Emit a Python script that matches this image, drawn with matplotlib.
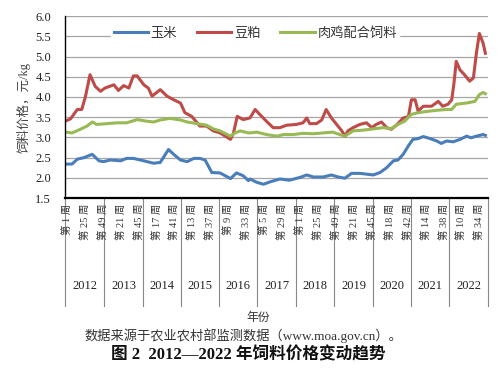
import matplotlib
matplotlib.use("Agg")
import matplotlib.pyplot as plt
import matplotlib.transforms as mtransforms

plt.rcParams['font.family'] = ['Liberation Serif', 'Noto Sans CJK SC']

# week index (0 = 2012 week 1) and price, yuan/kg
corn_weeks = [0, 9, 16, 25, 36, 45, 51, 60, 74, 82, 91, 105, 118, 127, 138, 145, 154, 163,
              172, 180, 187, 196, 207, 221, 229, 238, 245, 247, 256, 265, 274, 287, 300,
              314, 323, 332, 345, 356, 365, 374, 383, 394, 403, 412, 421, 430, 439, 445,
              452, 459, 465, 472, 479, 488, 497, 503, 510, 519, 528, 537, 543, 550, 559, 562]
corn_price = [2.34, 2.34, 2.46, 2.50, 2.58, 2.42, 2.40, 2.44, 2.42, 2.48, 2.48, 2.42, 2.36,
              2.38, 2.70, 2.58, 2.44, 2.40, 2.48, 2.48, 2.44, 2.13, 2.12, 1.98, 2.12, 2.05,
              1.93, 1.97, 1.89, 1.84, 1.90, 1.97, 1.94, 2.01, 2.07, 2.02, 2.02, 2.07, 2.02,
              1.99, 2.11, 2.11, 2.09, 2.07, 2.13, 2.25, 2.42, 2.44, 2.58, 2.79, 2.95, 2.97,
              3.02, 2.97, 2.91, 2.85, 2.91, 2.89, 2.95, 3.03, 2.99, 3.03, 3.07, 3.05]

meal_weeks = [0, 7, 16, 22, 27, 33, 40, 47, 53, 65, 71, 78, 85, 91, 96, 105, 111, 116, 127,
              136, 145, 154, 160, 169, 180, 189, 198, 207, 221, 225, 230, 238, 247, 254, 260,
              269, 278, 287, 296, 309, 318, 323, 327, 336, 343, 349, 356, 363, 370, 374, 378,
              385, 394, 403, 410, 416, 423, 430, 436, 443, 452, 459, 463, 468, 472, 479, 490,
              499, 505, 512, 517, 520, 523, 528, 534, 541, 546, 550, 554, 559, 562]
meal_price = [3.40, 3.46, 3.69, 3.69, 4.02, 4.55, 4.26, 4.14, 4.22, 4.30, 4.16, 4.28, 4.22,
              4.52, 4.52, 4.30, 4.22, 4.02, 4.18, 4.02, 3.93, 3.85, 3.61, 3.52, 3.28, 3.28,
              3.16, 3.11, 2.95, 3.11, 3.52, 3.44, 3.48, 3.69, 3.57, 3.40, 3.24, 3.24, 3.30,
              3.32, 3.36, 3.48, 3.34, 3.34, 3.43, 3.69, 3.48, 3.32, 3.16, 3.03, 3.16, 3.24,
              3.32, 3.36, 3.24, 3.32, 3.38, 3.24, 3.20, 3.30, 3.48, 3.51, 3.93, 3.93, 3.65,
              3.77, 3.77, 3.89, 3.77, 3.82, 3.93, 4.34, 4.88, 4.67, 4.55, 4.39, 4.47, 5.08,
              5.57, 5.33, 5.08]

feed_weeks = [0, 9, 20, 29, 36, 42, 56, 69, 82, 96, 109, 118, 127, 140, 154, 163, 176, 189,
              198, 207, 221, 227, 234, 245, 247, 256, 269, 283, 292, 305, 318, 332, 345, 358,
              367, 374, 385, 399, 412, 425, 436, 445, 454, 463, 472, 483, 497, 510, 517, 523,
              537, 548, 554, 559, 562]
feed_price = [3.13, 3.11, 3.20, 3.28, 3.38, 3.32, 3.34, 3.36, 3.36, 3.44, 3.40, 3.38, 3.43,
              3.47, 3.43, 3.38, 3.34, 3.30, 3.21, 3.16, 3.03, 3.11, 3.16, 3.11, 3.11, 3.13,
              3.07, 3.03, 3.07, 3.07, 3.10, 3.09, 3.11, 3.13, 3.07, 3.03, 3.16, 3.18, 3.21,
              3.24, 3.22, 3.32, 3.40, 3.57, 3.61, 3.64, 3.67, 3.69, 3.69, 3.82, 3.85, 3.89,
              4.06, 4.11, 4.08]

tick_weeks = list(range(0, 553, 24))
tick_labels = ['第 1 周', '第 25 周', '第 49 周', '第 21 周', '第 45 周', '第 17 周', '第 41 周',
               '第 13 周', '第 37 周', '第 9 周', '第 33 周', '第 5 周', '第 29 周', '第 1 周',
               '第 25 周', '第 49 周', '第 21 周', '第 45 周', '第 18 周', '第 42 周',
               '第 14 周', '第 38 周', '第 10 周', '第 34 周']
years = ['2012', '2013', '2014', '2015', '2016', '2017', '2018', '2019', '2020', '2021', '2022']
year_starts = [0, 52, 104, 155, 206, 257, 309, 360, 412, 463, 514, 566]

fig = plt.figure(figsize=(5.01, 3.83), dpi=100)
ax = fig.add_axes([0.1297, 0.483, 0.8443, 0.475])

ax.plot(corn_weeks, corn_price, color='#4A7EBB', lw=2.2, label='玉米', solid_joinstyle='round')
ax.plot(meal_weeks, meal_price, color='#BE4B48', lw=2.2, label='豆粕', solid_joinstyle='round')
ax.plot(feed_weeks, feed_price, color='#98B954', lw=2.2, label='肉鸡配合饲料', solid_joinstyle='round')

ax.set_ylim(1.5, 6.0)
ax.set_yticks([1.5, 2.0, 2.5, 3.0, 3.5, 4.0, 4.5, 5.0, 5.5, 6.0])
ax.set_yticklabels(['1.5', '2.0', '2.5', '3.0', '3.5', '4.0', '4.5', '5.0', '5.5', '6.0'])
ax.set_xlim(year_starts[0] - 0.5, year_starts[-1] - 0.5)
ax.set_xticks([])
ax.grid(axis='y', color='#A6A6A6', lw=0.9)
ax.set_axisbelow(True)
for s in ['top', 'right']:
    ax.spines[s].set_visible(False)
ax.spines['left'].set_linewidth(1.0)
ax.spines['bottom'].set_linewidth(1.6)
ax.tick_params(axis='y', length=0, labelsize=9, pad=10, colors='#222222')
ax.set_ylabel('饲料价格，元/kg', fontsize=9, color='#444444', labelpad=3)

leg = ax.legend(loc='center', bbox_to_anchor=(0.45, 0.905), ncol=3, frameon=True,
                fontsize=9.5, handlelength=2.6, columnspacing=1.5, handletextpad=0.2,
                borderpad=0.2)
leg.get_frame().set_facecolor('white')
leg.get_frame().set_edgecolor('white')
leg.get_frame().set_alpha(1.0)
for t in leg.get_texts():
    t.set_color('#333333')

# two-level category axis below the plot
tr = mtransforms.blended_transform_factory(ax.transData, fig.transFigure)
for w, lab in zip(tick_weeks, tick_labels):
    ax.text(w + 2, 1 - 204 / 383, lab, transform=tr, rotation=90, ha='center', va='top',
            fontsize=7.5, color='#333333')
for i, y in enumerate(years):
    mid = (year_starts[i] + year_starts[i + 1]) / 2
    ax.text(mid, 1 - 286 / 383, y, transform=tr, ha='center', va='center',
            fontsize=9, color='#222222')
for b in year_starts:
    ax.plot([b - 0.5, b - 0.5], [1 - 198 / 383, 1 - 306 / 383], transform=tr,
            color='#888888', lw=0.8, clip_on=False)

fig.text(0.515, 1 - 318 / 383, '年份', ha='center', va='center', fontsize=8.5, color='#333333')
fig.text(0.485, 1 - 336 / 383, '数据来源于农业农村部监测数据（www.moa.gov.cn）。', ha='center',
         va='center', fontsize=9.5, color='#333333')
fig.text(0.495, 1 - 355 / 383, '图 2  2012—2022 年饲料价格变动趋势', ha='center', va='center',
         fontsize=12, color='#111111', fontweight='bold')

fig.savefig('out.png', dpi=100)
